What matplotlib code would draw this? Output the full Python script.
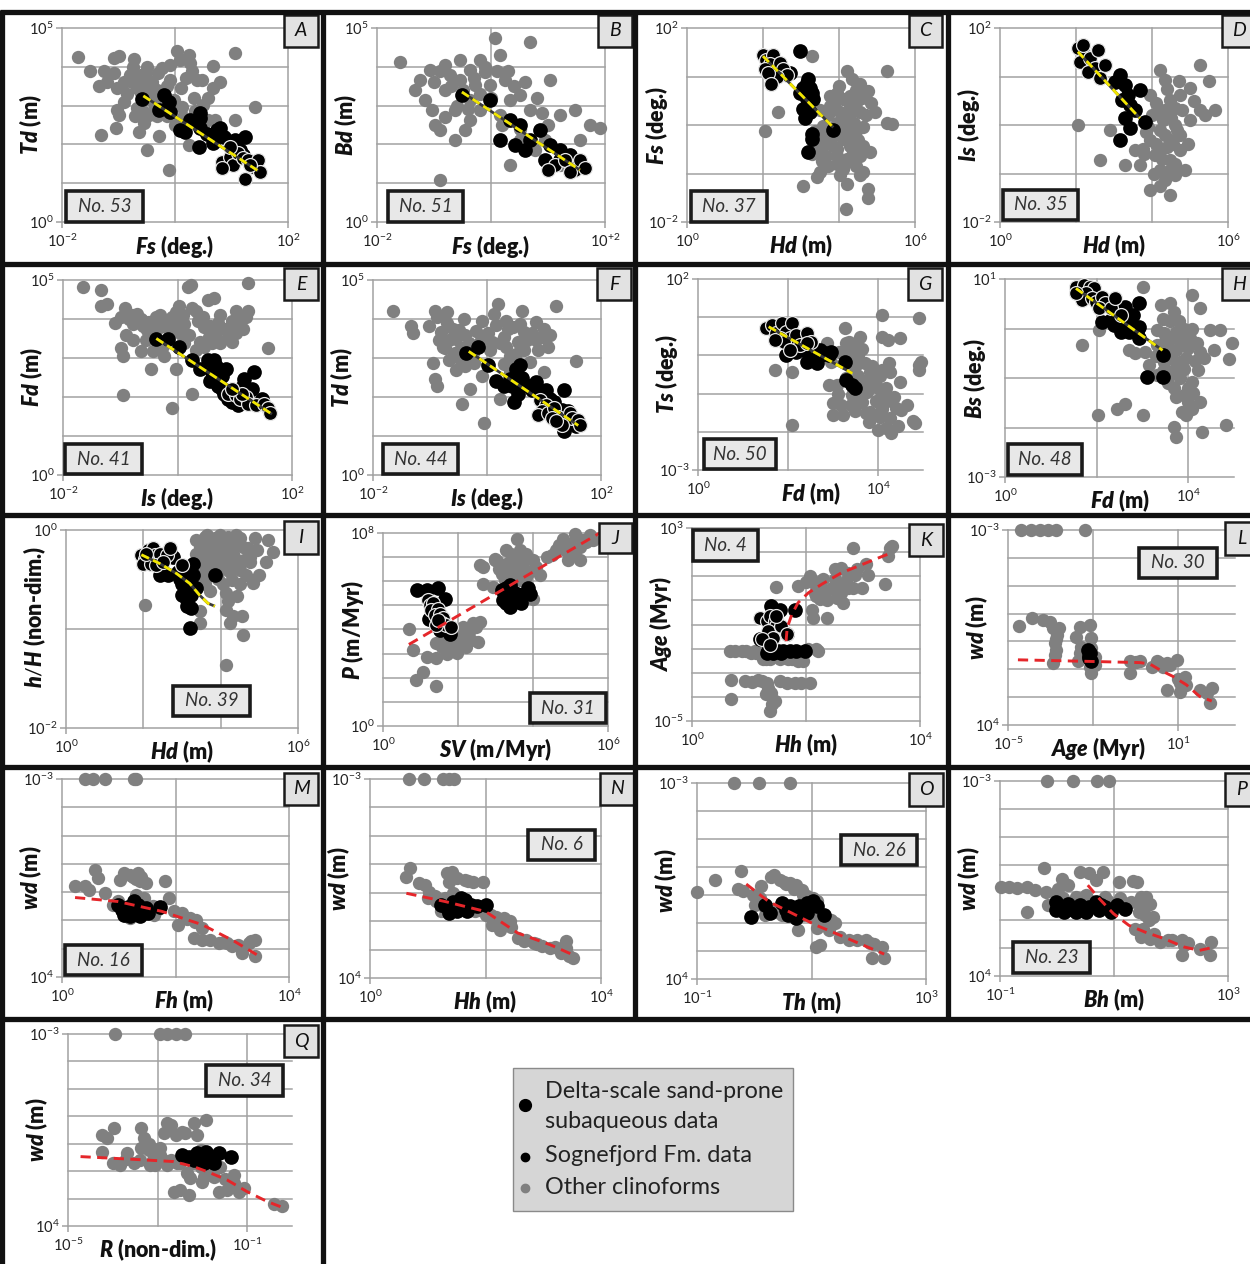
import numpy as np
import matplotlib
matplotlib.use("Agg")
import matplotlib.pyplot as plt
from matplotlib.lines import Line2D
from matplotlib.patches import Rectangle
from matplotlib.ticker import NullLocator

plt.rcParams["font.family"] = ["Lato", "DejaVu Sans"]
plt.rcParams["mathtext.fontset"] = "custom"
plt.rcParams["mathtext.rm"] = "Lato"
plt.rcParams["mathtext.it"] = "Lato:italic:heavy"
plt.rcParams["mathtext.bf"] = "Lato:heavy"

# ---------------------------------------------------------------------------
# Data: (log10 x, log10 y) pairs for every panel.
# "other" = other clinoforms, "delta" = delta-scale sand-prone subaqueous data,
# "sogn" = Sognefjord Fm. data, "fit" = trend line through the data.
# ---------------------------------------------------------------------------
A_other = [(-1.72,4.25),(-1.50,3.90),(-1.34,3.51),(-1.26,3.90),(-1.08,3.84),(-1.08,4.22),(-0.99,4.28),(-0.73,4.20),
           (-1.31,2.24),(-1.05,2.41),(-1.02,3.45),(-1.03,2.89),(-0.99,2.76),(-0.79,3.79),(-0.70,3.71),(-0.61,3.79),
           (-0.52,3.84),(-0.76,3.62),(-0.67,3.45),(-0.61,3.32),(-0.49,3.66),(-0.46,3.49),(-0.58,3.15),(-0.55,2.84),
           (-0.46,2.76),(-0.67,2.93),(-0.70,2.72),(-0.64,2.33),(-0.49,1.85),(-0.29,2.22),(-0.32,2.72),(-0.26,3.23),
           (-0.14,2.72),(-0.02,3.15),(-0.08,3.66),(-0.23,3.97),(-0.08,4.05),(0.04,4.40),(0.09,4.18),(0.24,4.31),
           (0.27,4.09),(0.39,3.66),(0.48,3.66),(0.68,4.01),(0.80,3.62),(0.68,3.45),(0.59,3.19),(0.33,3.19),
           (0.50,3.02),(0.12,2.97),(-0.11,1.34),(0.24,1.98),(0.53,2.33),(0.59,2.63),(0.71,2.63),(1.06,2.63),
           (1.06,4.35),(1.41,2.96),(-0.32,3.41),(-0.43,3.15),
           (-0.90,3.60),(-0.85,3.30),(-0.60,3.55),(-0.40,3.60),(-0.30,3.85),(-0.50,4.00),(-0.15,3.50),(-0.35,3.00),
           (0.10,3.45),(0.20,3.70),(0.30,3.90),(-0.75,4.00),(-1.20,3.60),(-0.55,2.55),(0.00,2.50),(0.15,2.70),
           (-0.20,2.90),(0.35,2.85),(-0.40,3.30),(-0.90,3.10)]
A_delta = [(-0.58,3.17),(-0.20,3.28),(-0.11,3.10),(-0.08,2.84),(-0.29,2.89),(0.09,2.37),(0.18,2.33),(0.27,2.63),
           (0.45,2.80),(0.45,2.67),(0.42,1.94),(0.45,2.41),(0.56,2.28),(0.68,2.20),(0.74,2.37),(0.80,2.41),
           (0.86,2.20),(1.06,2.11),(1.24,2.20),(0.68,2.03),(1.15,1.85),(1.21,1.72)]
A_sogn = [(0.83,1.55),(0.97,1.68),(1.03,1.47),(1.12,1.77),(1.21,1.64),(1.30,1.59),(1.38,1.42),(1.47,1.59),
          (1.50,1.29),(1.24,1.12),(0.83,1.38),(1.33,1.47),(0.97,1.94)]
A_fit = [(-0.56,3.25),(1.47,1.32)]

B_other = [(-1.60,4.12),(-1.33,3.40),(-1.25,3.66),(-1.16,3.14),(-0.89,2.37),(-1.04,2.89),(-0.81,3.40),(-0.72,3.79),
           (-0.54,3.66),(-0.37,3.92),(-0.19,4.18),(-0.11,3.87),(-0.02,3.53),(0.16,4.30),(0.25,3.66),(0.33,3.14),
           (0.51,3.27),(0.68,2.89),(0.95,2.11),(0.07,4.74),(0.68,4.64),(1.04,3.66),(1.21,2.76),(1.47,2.89),
           (1.74,2.50),(1.56,2.11),(1.91,2.42),(-0.37,2.63),(-0.63,2.11),(-0.89,1.08),(0.33,1.47),(-0.19,2.89),
           (-0.37,3.14),(-0.63,2.89),(0.16,2.76),(0.51,2.11),(0.77,1.86),(1.21,1.47),(-1.07,3.92),(-0.81,4.05),
           (-0.54,4.18),(-0.28,3.53),(-0.98,2.50),(-0.46,2.37),
           (-0.90,3.90),(-0.70,3.50),(-0.50,3.40),(-0.30,3.70),(-0.10,4.00),(0.10,3.90),(0.30,3.90),(-0.20,3.30),
           (0.00,3.20),(-0.60,3.00),(-0.40,2.90),(0.40,3.50),(0.60,3.60),(0.80,3.20),(0.90,2.80),(-1.00,3.60),
           (-0.80,2.70),(0.20,2.50),(0.50,2.40),(1.00,2.50)]
B_delta = [(-0.51,3.27),(-0.02,3.14),(0.33,2.63),(0.51,2.50),(0.16,2.11),(0.42,1.98),(0.68,2.11),(0.86,2.37),
           (1.04,1.98),(1.21,1.86),(1.39,1.73),(1.47,1.47),(0.95,1.60),(1.21,1.60),(0.60,1.86)]
B_sogn = [(1.12,1.47),(1.30,1.60),(1.47,1.34),(1.56,1.60),(1.39,1.29),(1.00,1.34),(1.65,1.39)]
B_fit = [(-0.51,3.35),(1.56,1.34)]

C_other = [(3.28,1.43),(4.20,1.11),(5.25,1.11),(4.33,0.94),(4.55,0.84),(4.77,0.70),(3.76,0.60),(3.94,0.67),
           (4.11,0.53),(4.29,0.60),(4.46,0.46),(4.55,0.26),(4.95,0.26),(5.25,0.05),(5.39,0.02),(2.40,0.26),
           (2.05,-0.12),(3.59,-0.02),(3.94,0.05),(4.20,-0.02),(4.46,-0.12),(4.64,-0.05),(3.41,-0.29),(3.76,-0.36),
           (4.11,-0.29),(4.29,-0.43),(4.64,-0.43),(4.82,-0.56),(3.67,-0.63),(3.94,-0.63),(4.20,-0.70),(4.46,-0.84),
           (4.64,-0.97),(4.11,-0.91),(3.50,-0.97),(3.06,-1.25),(3.41,-1.08),(4.20,-1.21),(4.55,-1.04),(4.77,-1.32),
           (4.77,-1.51),(4.18,-1.73),(3.50,-0.53),(3.94,-0.50),(3.76,0.39),(4.02,0.26),(3.37,-0.12),(3.41,-0.43),
           (3.85,0.53),(4.29,0.39),(4.46,0.73),(3.67,-0.15),(4.02,-0.15),(3.85,-0.43),(4.37,-0.56),(4.55,-0.63),
           (4.02,-1.04),
           (3.70,0.20),(3.90,0.35),(4.05,0.10),(4.25,0.20),(4.40,0.05),(4.70,0.20),(3.80,-0.25),(4.15,-0.10),
           (4.35,-0.25),(3.60,-0.40),(3.95,-0.80),(4.30,-0.75),(3.70,-0.85),(4.50,-0.30),(4.00,0.80),(3.50,0.30),
           (4.60,0.55),(4.85,0.45),(3.30,-0.60),(3.55,-0.75)]
C_delta = [(2.97,1.52),(2.71,1.08),(3.19,0.94),(3.06,0.77),(2.97,0.67),(3.23,0.77),(3.28,0.67),(3.15,0.53),
           (3.06,0.32),(3.19,0.46),(3.10,0.15),(3.32,0.53),(3.28,-0.19),(3.28,-0.29),(3.19,-0.56),(3.85,-0.10),
           (3.15,0.36),(3.23,0.26),(3.15,0.87)]
C_sogn = [(2.00,1.45),(2.09,1.35),(2.27,1.45),(2.18,1.25),(2.05,1.15),(2.36,1.11),(2.27,0.94),(2.44,1.28),
          (2.53,1.15),(2.62,1.04),(2.36,0.99),(2.14,1.08),(2.22,0.84)]
C_fit = [(2.00,1.42),(3.85,-0.05)]

D_other = [(2.05,0.00),(2.89,-0.10),(3.55,-0.52),(3.95,0.62),(4.21,1.13),(4.34,0.93),(4.47,0.52),(4.21,0.31),
           (4.74,0.62),(5.00,0.76),(5.26,1.24),(4.21,-0.10),(4.47,-0.31),(3.95,-0.31),(4.21,-0.52),(4.47,-0.72),
           (4.74,-0.52),(4.61,0.00),(5.00,0.10),(5.26,0.31),(5.39,0.21),(5.66,0.31),(3.68,-0.82),(4.21,-0.93),
           (2.63,-0.72),(3.29,-0.82),(4.34,-1.13),(4.47,-1.44),(3.95,-1.34),(4.87,-0.93),(4.61,-1.03),(4.08,-0.62),
           (4.74,-0.21),(4.00,0.20),(4.30,0.10),(4.60,0.35),(3.90,-0.05),(4.40,-0.45),(3.80,-0.60),
           (4.10,0.45),(4.35,0.30),(4.50,0.15),(4.65,-0.10),(4.35,-0.20),(4.10,-0.40),(4.55,-0.40),(3.85,-0.15),
           (4.25,-0.70),(4.60,-0.80),(4.95,-0.40),(5.10,0.50),(4.80,0.30),(4.05,-1.00),(3.75,-0.50),(4.40,0.75),
           (4.70,0.90),(5.50,0.90),(4.20,-1.25),(4.45,-0.95)]
D_delta = [(3.16,1.03),(3.29,0.82),(3.37,0.62),(3.21,0.52),(3.42,0.41),(3.29,0.14),(3.42,-0.06),(3.55,0.31),
           (3.16,-0.31),(3.82,0.06),(3.68,0.72),(3.03,0.89)]
D_sogn = [(2.05,1.59),(2.24,1.44),(2.11,1.30),(2.37,1.38),(2.50,1.18),(2.32,1.09),(2.63,0.97),(2.18,1.65),
          (2.76,1.24),(2.58,1.55)]
D_fit = [(2.05,1.51),(3.68,0.14)]

E_other = [(-1.65,4.83),(-1.34,4.75),(-1.34,4.33),(-1.23,4.38),(-0.92,4.29),(-0.99,4.04),(-0.85,4.00),(-0.71,4.13),
           (-0.64,4.00),(-0.78,3.88),(-0.61,3.83),(-0.50,3.92),(-0.40,3.96),(-0.37,4.04),(-0.30,3.79),(-0.23,3.92),
           (-0.09,4.04),(-0.02,4.17),(0.02,4.33),(0.12,3.88),(0.19,4.83),(0.23,4.88),(0.26,4.29),(0.33,4.21),
           (0.54,4.50),(0.64,4.54),(0.47,3.79),(0.57,3.83),(0.68,3.63),(0.61,3.38),(0.47,3.29),(0.89,3.54),
           (0.96,3.79),(1.03,3.63),(1.03,4.21),(1.10,3.96),(1.23,4.21),(1.20,4.04),(0.96,3.42),(0.75,3.38),
           (0.40,3.42),(0.33,3.21),(-0.99,3.25),(-0.96,3.04),(-0.47,2.71),(-0.43,3.17),(-0.64,3.17),(-0.23,3.04),
           (-0.02,2.71),(-0.09,1.71),(0.26,2.08),(-0.96,2.04),(1.23,4.92),(1.58,3.25),(-0.16,3.46),(0.12,3.38),
           (-0.54,3.71),(-0.78,3.46),(0.05,3.63),
           (-0.80,4.10),(-0.60,3.95),(-0.45,3.70),(-0.30,4.10),(-0.15,3.75),(-0.05,3.90),(0.10,4.10),(0.35,3.95),
           (0.45,4.05),(0.70,3.90),(0.85,3.75),(0.75,4.10),(-0.55,3.45),(-0.25,3.30),(0.20,3.60),(0.55,3.55),
           (-1.10,3.90),(-0.90,3.60),(0.95,3.95),(1.15,3.75)]
E_delta = [(-0.37,3.48),(-0.16,3.50),(0.02,3.29),(0.26,2.96),(0.40,2.71),(0.54,2.96),(0.64,2.96),(0.61,2.63),
           (0.57,2.42),(0.68,2.79),(0.78,2.54),(0.85,2.71),(0.71,2.29),(0.78,2.21),(0.82,2.08),(0.89,1.96),
           (0.96,1.88),(1.17,2.46),(1.13,2.25),(1.30,2.21),(1.48,1.96),(1.34,2.63),(1.06,1.79),(1.03,2.13)]
E_sogn = [(0.89,2.08),(1.03,2.04),(1.10,1.96),(1.20,2.00),(1.23,1.83),(1.37,1.79),(1.51,1.83),(1.58,1.71),
          (1.62,1.58),(1.13,2.08),(0.96,2.21)]
E_fit = [(-0.37,3.50),(1.65,1.56)]

F_other = [(-1.65,4.21),(-1.34,3.83),(-1.30,3.63),(-1.02,3.83),(-0.92,4.21),(-0.88,4.04),(-0.71,4.17),(-0.81,3.67),
           (-0.67,3.46),(-0.78,3.29),(-0.60,3.75),(-0.50,3.71),(-0.39,3.58),(-0.32,3.38),(-0.46,3.25),(-0.57,3.13),
           (-0.67,2.96),(-0.46,2.92),(-0.39,2.79),(-0.22,2.88),(-0.08,2.54),(-0.95,2.88),(-0.92,2.46),(-0.88,2.29),
           (-0.29,2.21),(-0.43,1.83),(-0.05,1.33),(0.20,4.38),(0.13,4.13),(0.34,3.96),(0.37,3.75),(0.58,3.88),
           (0.62,4.21),(0.86,3.92),(0.65,3.67),(0.79,3.63),(0.34,3.29),(0.55,3.42),(0.65,3.21),(0.41,3.04),
           (0.51,2.88),(0.23,3.38),(0.09,3.42),(0.02,3.63),(-0.08,3.96),(0.23,1.96),(0.86,3.46),(0.97,3.54),
           (1.11,3.58),(1.07,3.29),(1.21,4.33),(1.56,2.92),(1.00,2.63),(0.41,2.63),(-0.25,3.13),(-0.74,3.25),
           (-0.70,3.90),(-0.55,3.50),(-0.40,4.00),(-0.20,3.70),(-0.10,3.45),(0.05,3.20),(0.30,3.55),(0.45,3.80),
           (0.70,3.45),(0.50,3.10),(-0.30,3.00),(-0.55,2.70),(0.90,3.20),(1.00,3.75),(0.15,3.85),(-0.85,3.45),
           (0.30,2.85),(0.75,2.90)]
F_delta = [(-0.36,3.13),(-0.15,3.29),(0.02,2.83),(0.16,2.42),(0.30,2.29),(0.41,2.46),(0.51,2.71),(0.58,2.83),
           (0.62,2.50),(0.65,2.33),(0.55,2.08),(0.48,1.88),(0.72,2.29),(0.86,2.38),(0.97,2.04),(1.04,2.17),
           (1.11,1.96),(1.18,1.88),(1.32,1.67),(1.35,1.13),(1.42,1.63),(1.56,1.25),(0.44,2.29),(0.79,2.17),
           (1.35,2.17)]
F_sogn = [(0.93,1.92),(1.04,1.79),(0.97,1.63),(0.90,1.54),(1.07,1.58),(1.18,1.71),(1.25,1.50),(1.14,1.46),
          (1.46,1.58),(1.49,1.46),(1.60,1.42),(1.63,1.29),(1.32,1.29),(1.21,1.38)]
F_fit = [(-0.32,3.17),(1.60,1.27)]

G_other = [(1.70,-0.38),(2.09,-0.43),(2.87,0.32),(3.30,0.32),(3.35,0.36),(3.48,0.27),(3.61,0.49),(3.65,0.18),
           (3.26,0.71),(3.13,0.10),(2.96,-0.16),(3.35,-0.08),(3.83,-0.43),(3.87,-0.29),(4.09,-0.38),(4.26,-0.43),
           (2.91,-0.77),(3.09,-0.77),(3.30,-0.60),(3.74,-0.69),(3.91,-0.77),(4.17,-0.86),(4.00,-0.86),(3.00,-1.25),
           (3.17,-1.30),(3.22,-1.56),(3.00,-1.56),(3.65,-1.21),(3.83,-1.47),(3.91,-1.56),(3.74,-1.52),(4.04,-1.60),
           (4.39,-1.39),(4.52,-1.43),(4.26,-1.65),(4.17,-1.91),(4.00,-1.95),(4.30,-2.04),(4.78,-1.73),(4.83,-1.78),
           (4.91,-0.25),(4.91,-0.38),(4.96,-0.16),(4.91,0.97),(4.09,1.06),(4.09,0.49),(4.22,0.40),(4.48,0.45),
           (2.09,-1.82),(3.57,-0.86),(3.61,-1.04),(3.43,-1.04),(4.09,-1.04),
           (3.50,-0.30),(3.70,-0.20),(3.90,-0.60),(4.05,-0.55),(3.55,-0.55),(3.75,-0.95),(3.95,-1.20),(4.20,-1.20),
           (3.40,-1.30),(3.50,-1.45),(4.35,-1.10),(4.10,-1.40),(3.80,-1.75),(3.35,0.05),(3.55,0.00),(4.25,-0.20),
           (4.50,-0.70),(3.10,-1.00),(4.65,-1.30),(4.45,-1.85)]
G_delta = [(1.96,0.01),(2.17,0.10),(2.35,0.14),(2.43,-0.16),(2.61,-0.08),(2.70,0.14),(2.74,0.01),(2.83,0.05),
           (2.91,0.01),(2.96,0.10),(3.26,-0.16),(3.30,-0.64),(3.43,-0.77),(3.48,-0.86),(2.65,-0.21)]
G_sogn = [(1.52,0.71),(1.65,0.80),(1.74,0.58),(1.87,0.84),(1.96,0.62),(2.09,0.84),(2.04,0.45),(1.83,0.45),
          (1.91,0.36),(2.17,0.53),(2.43,0.58),(2.52,0.36),(2.26,0.27),(2.04,0.14),(1.70,0.40),(2.43,0.32)]
G_fit = [(1.57,0.75),(3.43,-0.47)]

H_other = [(1.68,-0.34),(2.06,-0.03),(3.01,0.84),(4.09,0.68),(3.40,0.47),(3.61,0.51),(3.70,0.34),(3.44,0.20),
           (3.31,-0.03),(3.48,-0.10),(3.74,-0.07),(3.91,0.00),(4.09,0.00),(4.26,0.41),(4.47,-0.03),(4.69,-0.03),
           (4.95,-0.30),(4.90,-0.61),(4.56,-0.44),(4.26,-0.47),(4.00,-0.40),(3.74,-0.44),(3.57,-0.40),(3.31,-0.34),
           (3.05,-0.47),(2.84,-0.50),(2.71,-0.44),(3.14,-0.74),(3.31,-0.94),(3.57,-0.94),(3.83,-1.01),(4.09,-1.08),
           (3.91,-0.81),(4.22,-0.84),(3.70,-1.21),(3.74,-1.38),(4.00,-1.48),(4.09,-1.62),(4.26,-1.48),(3.87,-1.68),
           (3.96,-1.75),(3.70,-1.99),(3.74,-2.19),(4.30,-2.09),(4.82,-1.95),(2.62,-1.52),(3.01,-1.75),(2.02,-1.75),
           (2.45,-1.62),(3.83,-0.67),(3.48,-0.67),
           (3.50,-0.25),(3.65,-0.20),(3.85,-0.25),(4.05,-0.20),(4.20,-0.30),(3.60,-0.60),(3.75,-0.70),(3.95,-0.60),
           (4.15,-0.65),(3.45,-0.85),(3.65,-0.85),(3.85,-0.85),(4.00,-1.20),(3.90,-1.35),(4.10,-1.30),(3.55,-1.10),
           (4.35,-0.60),(3.30,-0.55),(3.60,0.15),(3.80,0.15)]
H_delta = [(2.11,0.14),(2.32,0.17),(2.45,0.27),(2.54,0.34),(2.62,0.44),(2.67,0.17),(2.58,0.04),(2.54,-0.07),
           (2.71,-0.07),(2.92,0.04),(2.92,-0.20),(2.92,0.51),(3.44,-0.54),(3.10,-0.98),(3.44,-0.98),(2.37,0.07),
           (2.80,0.27),(2.75,0.07),(2.88,-0.07)]
H_sogn = [(1.55,0.84),(1.72,0.88),(1.85,0.84),(1.94,0.81),(1.76,0.71),(1.68,0.58),(1.89,0.61),(1.98,0.54),
          (2.11,0.64),(2.19,0.51),(2.06,0.41),(2.32,0.41),(2.41,0.61),(2.54,0.27),(1.55,0.71)]
H_fit = [(1.55,0.81),(3.44,-0.44)]

I_other = [(2.04,-0.76),(3.37,-0.10),(3.59,-0.07),(3.72,-0.13),(3.85,-0.08),(3.98,-0.05),(4.19,-0.07),(4.32,-0.13),
           (4.49,-0.08),(4.88,-0.08),(5.22,-0.10),(5.35,-0.22),(5.18,-0.32),(4.75,-0.32),(4.58,-0.17),(4.32,-0.24),
           (4.15,-0.27),(3.98,-0.20),(3.76,-0.25),(3.55,-0.20),(3.46,-0.30),(3.63,-0.37),(3.80,-0.35),(3.98,-0.40),
           (4.23,-0.37),(4.49,-0.40),(4.66,-0.45),(4.84,-0.54),(3.59,-0.55),(3.72,-0.62),(3.93,-0.49),(4.15,-0.64),
           (4.41,-0.67),(4.19,-0.72),(4.15,-0.81),(4.32,-0.87),(4.23,-0.94),(4.54,-0.87),(3.46,-0.82),(3.46,-0.94),
           (4.58,-1.06),(4.15,-1.36),(3.89,-0.30),(4.41,-0.30),(4.75,-0.27),(3.80,-0.15),(3.46,-0.17),(3.37,-0.24),
           (3.60,-0.15),(3.70,-0.28),(3.85,-0.22),(4.00,-0.12),(4.10,-0.35),(4.25,-0.18),(4.40,-0.15),(4.60,-0.30),
           (4.70,-0.18),(4.05,-0.55),(4.30,-0.50),(3.75,-0.45),(4.50,-0.55),(4.95,-0.20),(3.50,-0.45),(4.00,-0.28),
           (4.25,-0.42),(3.65,-0.05),(4.40,-0.05),(5.00,-0.45)]
I_delta = [(2.43,-0.45),(2.64,-0.45),(2.77,-0.27),(2.94,-0.49),(3.07,-0.39),(3.20,-0.42),(3.29,-0.34),(3.29,-0.45),
           (2.99,-0.55),(3.12,-0.61),(3.24,-0.54),(3.37,-0.59),(2.99,-0.66),(3.12,-0.71),(3.24,-0.66),(3.12,-0.77),
           (3.24,-0.79),(3.20,-0.99),(3.85,-0.45),(2.90,-0.42),(3.07,-0.50)]
I_sogn = [(1.95,-0.25),(2.04,-0.29),(2.13,-0.20),(2.25,-0.18),(2.30,-0.25),(2.43,-0.24),(2.60,-0.25),(2.69,-0.18),
          (2.00,-0.34),(2.21,-0.34),(2.34,-0.35),(2.51,-0.32),(2.99,-0.35),(2.08,-0.24)]
I_fit = [(1.95,-0.25),(2.43,-0.34),(2.86,-0.44),(3.20,-0.54),(3.46,-0.66),(3.67,-0.74),(3.85,-0.77)]

J_other = [(0.69,4.04),(0.80,3.14),(0.89,1.90),(1.07,2.25),(1.16,2.87),(1.42,2.80),(1.40,1.66),(1.42,3.42),
           (1.56,3.28),(1.73,3.70),(1.87,3.42),(1.96,3.01),(2.04,3.42),(2.22,3.28),(2.22,3.70),(2.31,3.97),
           (2.49,4.11),(2.58,4.32),(2.40,4.25),(2.13,4.11),(1.96,3.97),(2.53,3.49),(2.67,6.59),(2.58,6.66),
           (2.98,6.94),(3.29,7.28),(3.42,7.14),(3.56,7.77),(3.47,6.73),(3.29,6.73),(3.16,6.32),(2.93,5.77),
           (2.67,5.90),(3.64,7.01),(3.82,7.14),(4.00,6.87),(4.09,6.59),(4.18,6.25),(3.82,6.18),(3.64,6.04),
           (4.00,5.28),(4.36,7.01),(4.62,7.28),(4.80,7.77),(4.98,7.56),(5.11,7.97),(5.24,7.42),(5.07,7.21),
           (4.93,6.87),(5.24,6.87),(5.42,7.63),(5.51,7.90),(5.60,7.70),(2.98,6.87),(3.64,7.28),
           (3.10,6.50),(3.35,6.50),(3.50,6.90),(3.70,6.60),(3.90,6.40),(3.45,7.00),(3.55,6.25),(3.25,6.05),
           (3.75,6.85),(3.05,6.85),(4.50,7.10),(4.70,7.50),(4.85,7.30),(5.30,7.70),(1.70,3.00),(1.85,3.20),
           (2.10,3.60),(2.35,3.55),(1.60,3.55),(2.00,3.80)]
J_delta = [(0.91,5.63),(1.17,5.63),(1.47,5.74),(1.64,5.28),(1.23,4.43),(1.78,3.81),(1.67,4.04),(1.51,3.97),
           (3.16,5.63),(3.29,5.70),(3.38,5.83),(3.47,5.56),(3.24,5.35),(3.29,5.08),(3.38,4.94),(3.42,5.21),
           (3.56,5.49),(3.69,5.42),(3.87,5.70),(3.91,5.49),(3.69,5.08),(3.20,5.21),(3.33,5.49)]
J_sogn = [(1.20,5.21),(1.24,5.01),(1.33,5.08),(1.29,4.80),(1.47,4.87),(1.38,4.59),(1.51,4.66),(1.60,4.46),
          (1.56,4.25),(1.69,4.18),(1.82,4.11),(1.42,4.18),(1.47,4.39)]
J_fit = [(0.69,3.38),(6.00,8.20)]

K_other = [(0.66,-2.10),(0.75,-2.10),(0.87,-2.10),(0.95,-2.10),(1.04,-2.17),(1.13,-2.17),(1.22,-2.10),(1.36,-2.45),
           (1.69,-2.45),(1.86,-2.52),(2.04,-2.03),(2.21,-2.10),(2.18,-2.03),(0.69,-3.28),(0.93,-3.34),(1.22,-3.34),
           (1.31,-3.41),(1.34,-3.62),(1.39,-3.83),(1.45,-4.17),(1.36,-4.59),(0.69,-4.10),(1.66,-3.41),(1.80,-3.41),
           (1.92,-3.41),(2.07,-3.41),(1.48,0.56),(1.86,0.59),(2.07,1.00),(2.13,0.79),(2.18,0.59),(2.27,0.52),
           (2.18,0.17),(2.36,0.03),(2.33,0.31),(2.16,0.31),(2.51,1.28),(2.62,1.34),(2.74,1.14),(2.86,1.07),
           (3.09,1.07),(2.62,0.59),(2.74,0.52),(2.83,0.52),(2.98,0.52),(2.62,0.31),(2.65,-0.10),(2.83,2.17),
           (3.39,0.66),(3.44,1.83),(3.47,2.17),(3.50,2.24),(2.13,-0.72),(2.36,-0.72),(2.10,-0.38),
           (1.10,-2.10),(1.30,-2.45),(1.55,-2.45),(1.75,-2.45),(1.95,-2.52),(1.05,-3.40),(1.15,-3.30),(1.30,-3.90),
           (1.40,-4.30),(2.30,0.90),(2.50,0.90),(2.45,0.50),(2.90,1.30),(2.70,0.80),(3.05,1.50),(2.55,0.10),
           (2.00,0.75),(2.25,0.05),(1.55,-3.35),(1.25,-2.45)]
K_delta = [(1.38,-0.24),(1.54,-0.38),(1.80,-0.38),(1.66,-1.41),(1.19,-1.62),(1.34,-2.10),(1.42,-2.17),(1.51,-2.10),
           (1.60,-2.10),(1.72,-2.10),(1.83,-2.10),(1.98,-2.10),(1.31,-2.17),(1.57,-2.17)]
K_sogn = [(1.19,-0.72),(1.31,-0.86),(1.36,-0.66),(1.45,-0.86),(1.48,-1.07),(1.34,-1.28),(1.42,-1.55),(1.22,-1.62),
          (1.36,-1.83),(1.57,-1.07),(1.66,-1.41),(1.48,-0.66)]
K_fit = [(1.65,-1.69),(1.67,-1.14),(1.75,-0.59),(1.86,-0.10),(2.04,0.31),(2.27,0.66),(2.62,1.14),(2.98,1.48),
         (3.27,1.76),(3.50,1.97)]

L_other = [(-4.53,-3),(-4.18,-3),(-3.88,-3),(-3.59,-3),(-3.32,-3),(-2.29,-3),
           (-4.62,0.44),(-4.14,0.17),(-3.76,0.23),(-3.53,0.29),(-3.41,0.53),(-3.27,0.77),(-3.35,1.07),(-3.32,1.31),
           (-3.35,1.49),(-3.41,1.78),(-2.59,0.83),(-2.47,0.47),(-2.12,0.41),(-2.41,1.19),(-2.47,1.43),(-2.24,1.31),
           (-2.06,1.25),(-2.12,1.90),(-2.06,2.12),(-1.94,1.55),(-2.53,1.72),(-2.06,0.89),(-0.71,1.72),(-0.71,2.14),
           (-0.35,1.72),(0.06,1.90),(0.24,1.72),(0.35,1.78),(0.59,1.78),(0.94,1.67),(1.24,2.26),(1.06,2.50),
           (0.59,2.74),(1.06,2.80),(1.76,2.74),(2.18,2.68),(2.12,3.22),(1.29,2.56),
           (-3.20,0.50),(-3.30,0.90),(-2.30,1.50),(-2.00,1.60),(-1.95,1.85),(-0.50,1.75),(0.45,1.90),(0.70,1.85),
           (1.15,2.60),(1.00,2.35),(2.00,2.85)]
L_delta = [(-2.18,1.31),(-2.12,1.43),(-2.14,1.61),(-2.09,1.72),(-2.16,1.52)]
L_sogn = []
L_fit = [(-4.65,1.66),(-2.00,1.72),(-0.35,1.76),(0.00,1.81),(0.35,2.02),(0.82,2.26),(1.29,2.56),(1.76,2.98),
         (2.18,3.14)]

M_other = [(0.41,-3),(0.55,-3),(0.75,-3),(1.26,-3),(1.31,-3),
           (0.23,0.80),(0.41,0.80),(0.48,0.92),(0.59,0.21),(0.63,0.51),(0.75,1.04),(1.02,0.56),(1.09,0.33),
           (1.19,0.39),(1.34,0.33),(1.37,0.62),(1.48,0.68),(1.82,0.62),(1.89,1.21),(0.98,1.33),(1.55,1.56),
           (1.98,1.68),(2.12,1.74),(2.05,2.15),(2.26,1.92),(2.37,1.98),(2.47,2.27),(2.33,2.62),(2.47,2.68),
           (2.76,2.80),(2.90,2.80),(3.11,2.86),(3.18,3.15),(3.33,2.74),(3.40,2.68),(3.40,3.27),(1.62,1.80),
           (1.12,1.86),
           (1.30,0.55),(1.40,0.45),(1.25,0.45),(1.45,1.20),(1.30,1.10),(1.60,1.50),(1.70,1.60),(2.20,1.95),
           (2.35,2.05),(2.60,2.70),(2.85,2.75),(3.00,2.90),(3.30,2.80),(0.90,1.45),(1.20,1.90)]
M_delta = [(0.98,1.45),(1.05,1.62),(1.16,1.51),(1.09,1.80),(1.19,1.86),(1.26,1.33),(1.34,1.45),(1.41,1.68),
           (1.37,1.86),(1.48,1.56),(1.51,1.74),(1.73,1.51),(1.26,1.62)]
M_sogn = []
M_fit = [(0.23,1.19),(0.98,1.33),(1.76,1.68),(2.47,2.15),(3.04,2.74),(3.43,3.21)]

N_other = [(0.68,-3),(0.93,-3),(1.26,-3),(1.37,-3),(1.45,-3),
           (0.70,0.14),(0.63,0.43),(0.84,0.67),(0.95,0.72),(1.02,0.96),(1.12,1.13),(1.26,1.25),(1.33,0.31),
           (1.42,0.26),(1.37,0.61),(1.64,0.55),(1.79,0.61),(1.96,0.61),(1.44,1.02),(1.82,1.66),(2.00,1.78),
           (2.18,1.84),(2.32,1.89),(2.42,2.01),(2.11,2.13),(2.25,2.30),(2.56,2.60),(2.67,2.71),(2.84,2.77),
           (2.98,2.89),(3.12,2.95),(3.33,2.95),(3.40,2.71),(3.44,3.24),(3.30,3.12),(3.51,3.30),(2.42,2.13),
           (1.23,1.66),(1.30,1.48),
           (1.15,1.30),(1.30,1.20),(1.50,0.50),(1.70,0.60),(1.50,1.50),(1.70,1.50),(2.10,1.80),(2.25,1.95),
           (2.45,2.20),(2.70,2.65),(2.90,2.80),(3.20,2.90),(3.40,2.95),(1.00,1.20),(1.90,1.60)]
N_delta = [(1.23,1.43),(1.33,1.54),(1.44,1.31),(1.54,1.37),(1.65,1.25),(1.75,1.43),(1.86,1.48),(2.00,1.43),
           (1.51,1.66),(1.68,1.66),(1.37,1.72),(1.58,1.19)]
N_sogn = []
N_fit = [(0.63,1.02),(1.30,1.31),(2.00,1.66),(2.56,2.42),(3.12,2.83),(3.51,3.18)]

O_other = [(-0.35,-3),(0.08,-3),(0.62,-3),
           (-1.00,0.91),(-0.68,0.46),(-0.23,0.16),(-0.29,0.78),(-0.20,0.85),(-0.03,0.99),(0.11,0.69),(0.35,0.28),
           (0.45,0.46),(0.52,0.52),(0.62,0.58),(0.73,0.64),(0.83,0.81),(0.93,1.05),(1.03,1.11),(1.10,1.23),
           (0.01,1.35),(0.18,1.47),(0.38,1.59),(0.49,1.71),(0.76,2.24),(0.93,1.59),(1.03,1.77),(1.14,1.83),
           (1.21,1.95),(1.34,1.89),(1.41,2.01),(1.10,2.18),(1.31,2.24),(1.07,2.84),(1.14,2.78),(1.65,2.60),
           (1.96,2.60),(2.03,2.72),(2.06,3.26),(2.23,2.84),(2.27,3.26),(0.18,1.71),
           (0.30,0.35),(0.55,0.60),(0.70,0.80),(0.85,1.00),(0.10,1.10),(0.30,1.50),(0.45,1.55),(0.65,1.50),
           (0.85,1.70),(1.00,1.45),(1.20,1.80),(1.35,2.00),(1.50,2.50),(1.80,2.60),(2.10,2.75)]
O_delta = [(-0.06,1.77),(0.18,1.35),(0.28,1.65),(0.49,1.29),(0.55,1.53),(0.62,1.41),(0.69,1.59),(0.73,1.83),
           (0.79,1.41),(0.93,1.29),(1.03,1.23),(1.10,1.41),(1.21,1.71),(0.93,1.65),(0.59,1.71)]
O_sogn = []
O_fit = [(-0.14,0.61),(0.25,1.23),(0.66,1.65),(1.07,2.07),(1.48,2.42),(1.89,2.78),(2.27,3.11)]

P_other = [(-0.17,-3),(0.28,-3),(0.71,-3),(0.92,-3),
           (-0.98,0.80),(-0.84,0.80),(-0.53,0.80),(-0.39,0.92),(-0.53,1.70),(-0.19,0.98),(-0.22,0.14),(0.02,0.86),
           (0.09,0.50),(0.19,0.74),(0.40,0.26),(0.57,0.32),(0.68,0.56),(0.81,0.26),(1.09,0.62),(1.33,0.60),
           (1.40,0.62),(1.47,1.16),(1.57,1.16),(1.64,1.40),(1.68,1.88),(1.61,2.00),(1.37,2.30),(1.47,2.60),
           (1.64,2.66),(1.81,2.78),(2.02,2.72),(2.19,2.72),(2.23,2.90),(2.50,3.02),(2.71,2.78),(2.68,3.26),
           (2.19,3.26),(-0.15,1.46),(0.33,1.16),(0.85,1.16),(1.30,1.34),(1.43,1.70),
           (0.10,1.20),(0.30,1.30),(0.50,1.10),(0.60,1.30),(0.90,1.30),(1.10,1.20),(1.20,1.40),(1.45,1.45),
           (1.55,1.80),(1.50,2.30),(1.70,2.50),(1.95,2.70),(2.30,2.80),(-0.70,0.85),(0.00,1.10)]
P_delta = [(-0.01,1.34),(-0.01,1.64),(0.12,1.70),(0.23,1.58),(0.33,1.70),(0.43,1.58),(0.57,1.52),(0.68,1.34),
           (0.74,1.64),(0.85,1.52),(0.95,1.70),(1.06,1.46),(1.19,1.58),(0.19,1.40),(0.50,1.70),(0.78,1.46),
           (0.40,1.46)]
P_sogn = []
P_fit = [(0.54,0.74),(0.74,1.22),(0.99,1.76),(1.26,2.18),(1.54,2.42),(1.88,2.66),(2.23,2.96),(2.50,3.08),
         (2.68,3.00),(2.71,2.90)]

Q_other = [(-3.96,-3),(-2.95,-3),(-2.79,-3),(-2.60,-3),(-2.38,-3),
           (-4.24,0.68),(-4.13,0.80),(-3.98,0.44),(-4.24,1.29),(-3.83,1.78),(-3.68,1.35),(-3.38,0.44),(-3.31,0.80),
           (-3.38,1.17),(-3.20,1.23),(-3.05,1.78),(-2.94,1.17),(-2.86,0.62),(-2.79,0.26),(-2.71,0.32),(-2.45,0.56),
           (-2.38,0.62),(-2.19,0.26),(-2.12,0.68),(-1.93,0.13),(-2.04,1.23),(-2.79,1.78),(-2.56,1.71),(-2.34,2.08),
           (-2.27,2.26),(-1.97,2.20),(-1.74,2.20),(-2.64,2.75),(-2.49,2.69),(-2.30,2.87),(-1.63,2.75),(-1.45,2.69),
           (-1.30,2.14),(-1.19,2.75),(-1.07,2.63),(-2.04,1.84),(-1.60,1.84),(-0.40,3.20),(-0.22,3.27),(-1.74,1.65),
           (-3.53,1.71),(-3.16,1.78),
           (-3.10,1.60),(-2.90,1.55),(-2.70,1.60),(-2.50,1.70),(-3.40,1.60),(-3.70,1.55),(-4.00,1.70),(-2.60,0.70),
           (-2.20,1.70),(-1.80,1.90),(-1.50,2.30),(-1.30,2.45),(-2.00,2.40),(-3.20,1.00),(-2.95,1.40)]
Q_delta = [(-2.45,1.41),(-2.30,1.47),(-2.12,1.35),(-2.04,1.53),(-1.93,1.29),(-1.82,1.59),(-1.74,1.71),(-1.63,1.35),
           (-1.37,1.47),(-1.97,1.71),(-2.19,1.59)]
Q_sogn = []
Q_fit = [(-4.72,1.47),(-3.53,1.57),(-2.64,1.65),(-2.19,1.84),(-1.89,2.02),(-1.45,2.32),(-1.00,2.75),(-0.55,3.11),
         (-0.22,3.32)]

# ---------------------------------------------------------------------------
# Panel layout (pixel boxes on a 1250 x 1264 canvas) and axis descriptions
# ---------------------------------------------------------------------------
W, H = 1250, 1264
fig = plt.figure(figsize=(W / 100, H / 100), dpi=100)
fig.patch.set_facecolor("white")

GRID = "#a2a2a2"
OTHER = "#808080"
YELLOW = "#f2e600"
RED = "#e5262a"


def p10(e):
    return r"$\mathregular{10^{%s}}$" % e


def fx(px):
    return px / W


def fy(py):
    return 1 - py / H


panels = [
    dict(key="A", box=(62, 288, 28, 222), xl=(-2, 2), yl=(0, 5), xg=[-2, 0, 2], xt=[(-2, "-2"), (2, "2")],
         xlab=r"$\mathit{Fs}$ (deg.)", ylab=r"$\mathit{Td}$ (m)", lbox=(284, 15, 318, 47), nbox=(66, 191, 143, 222),
         no="No. 53", data=(A_other, A_delta, A_sogn, A_fit), fit=YELLOW),
    dict(key="B", box=(377, 605, 28, 222), xl=(-2, 2), yl=(0, 5), xg=[-2, 0, 2], xt=[(-2, "-2"), (2, "+2")],
         xlab=r"$\mathit{Fs}$ (deg.)", ylab=r"$\mathit{Bd}$ (m)", lbox=(598, 15, 632, 47), nbox=(388, 191, 463, 222),
         no="No. 51", data=(B_other, B_delta, B_sogn, B_fit), fit=YELLOW),
    dict(key="C", box=(687, 915, 28, 222), xl=(0, 6), yl=(-2, 2), xg=[0, 2, 4, 6], xt=[(0, "0"), (6, "6")],
         xlab=r"$\mathit{Hd}$ (m)", ylab=r"$\mathit{Fs}$ (deg.)", lbox=(909, 15, 942, 47), nbox=(691, 191, 767, 222),
         no="No. 37", data=(C_other, C_delta, C_sogn, C_fit), fit=YELLOW),
    dict(key="D", box=(1000, 1228, 28, 222), xl=(0, 6), yl=(-2, 2), xg=[0, 2, 4, 6], xt=[(0, "0"), (6, "6")],
         xlab=r"$\mathit{Hd}$ (m)", ylab=r"$\mathit{Is}$ (deg.)", lbox=(1222, 15, 1256, 47), nbox=(1003, 190, 1078, 220),
         no="No. 35", data=(D_other, D_delta, D_sogn, D_fit), fit=YELLOW),
    dict(key="E", box=(63, 292, 280, 475), xl=(-2, 2), yl=(0, 5), xg=[-2, 0, 2], xt=[(-2, "-2"), (2, "2")],
         xlab=r"$\mathit{Is}$ (deg.)", ylab=r"$\mathit{Fd}$ (m)", lbox=(284, 268, 318, 300), nbox=(65, 444, 142, 474),
         no="No. 41", data=(E_other, E_delta, E_sogn, E_fit), fit=YELLOW),
    dict(key="F", box=(373, 601, 280, 475), xl=(-2, 2), yl=(0, 5), xg=[-2, 0, 2], xt=[(-2, "-2"), (2, "2")],
         xlab=r"$\mathit{Is}$ (deg.)", ylab=r"$\mathit{Td}$ (m)", lbox=(597, 268, 631, 300), nbox=(383, 444, 458, 474),
         no="No. 44", data=(F_other, F_delta, F_sogn, F_fit), fit=YELLOW),
    dict(key="G", box=(698, 923, 279, 470), xl=(0, 5), yl=(-3, 2), xg=[0, 2, 4], xt=[(0, "0"), (4, "4")],
         xlab=r"$\mathit{Fd}$ (m)", ylab=r"$\mathit{Ts}$ (deg.)", lbox=(908, 268, 942, 300), nbox=(704, 439, 776, 469),
         no="No. 50", data=(G_other, G_delta, G_sogn, G_fit), fit=YELLOW),
    dict(key="H", box=(1005, 1234, 279, 477), xl=(0, 5), yl=(-3, 1), xg=[0, 2, 4], xt=[(0, "0"), (4, "4")],
         xlab=r"$\mathit{Fd}$ (m)", ylab=r"$\mathit{Bs}$ (deg.)", lbox=(1222, 268, 1256, 300), nbox=(1008, 444, 1082, 475),
         no="No. 48", data=(H_other, H_delta, H_sogn, H_fit), fit=YELLOW),
    dict(key="I", box=(66, 298, 530, 728), xl=(0, 6), yl=(-2, 0), xg=[0, 2, 4, 6], xt=[(0, "0"), (6, "6")],
         xlab=r"$\mathit{Hd}$ (m)", ylab=r"$\mathit{h/H}$ (non-dim.)", lbox=(284, 521, 318, 554), nbox=(173, 686, 250, 716),
         no="No. 39", data=(I_other, I_delta, I_sogn, I_fit), fit=YELLOW, ylab_dy=12),
    dict(key="J", box=(383, 608, 533, 726), xl=(0, 6), yl=(0, 8), xg=[0, 2, 4, 6], xt=[(0, "0"), (6, "6")],
         xlab=r"$\mathit{SV}$ (m/Myr)", ylab=r"$\mathit{P}$ (m/Myr)", lbox=(599, 523, 632, 553), nbox=(530, 693, 606, 723),
         no="No. 31", data=(J_other, J_delta, J_sogn, J_fit), fit=RED),
    dict(key="K", box=(692, 920, 528, 721), xl=(0, 4), yl=(-5, 3), xg=[0, 2, 4], xt=[(0, "0"), (4, "4")],
         xlab=r"$\mathit{Hh}$ (m)", ylab=r"$\mathit{Age}$ (Myr)", lbox=(909, 524, 943, 556), nbox=(693, 530, 758, 561),
         no="No. 4", data=(K_other, K_delta, K_sogn, K_fit), fit=RED),
    dict(key="L", box=(1008, 1235, 530, 725), xl=(-5, 3), yl=(-3, 4), inv=True, xg=[-5, -2, 1], xt=[(-5, "-5"), (1, "1")],
         xlab=r"$\mathit{Age}$ (Myr)", ylab=r"$\mathit{wd}$ (m)", lbox=(1225, 522, 1259, 555), nbox=(1139, 548, 1217, 578),
         no="No. 30", data=(L_other, L_delta, L_sogn, L_fit), fit=RED, xlab_dx=-24),
    dict(key="M", box=(62, 289, 779, 977), xl=(0, 4), yl=(-3, 4), inv=True, xg=[0, 2, 4], xt=[(0, "0"), (4, "4")],
         xlab=r"$\mathit{Fh}$ (m)", ylab=r"$\mathit{wd}$ (m)", lbox=(284, 773, 318, 805), nbox=(65, 945, 142, 975),
         no="No. 16", data=(M_other, M_delta, M_sogn, M_fit), fit=RED, xlab_dx=8),
    dict(key="N", box=(370, 601, 779, 978), xl=(0, 4), yl=(-3, 4), inv=True, xg=[0, 2, 4], xt=[(0, "0"), (4, "4")],
         xlab=r"$\mathit{Hh}$ (m)", ylab=r"$\mathit{wd}$ (m)", lbox=(600, 773, 634, 805), nbox=(528, 830, 595, 860),
         no="No. 6", data=(N_other, N_delta, N_sogn, N_fit), fit=RED),
    dict(key="O", box=(697, 926, 783, 979), xl=(-1, 3), yl=(-3, 4), inv=True, xg=[-1, 1, 3], xt=[(-1, "-1"), (3, "3")],
         xlab=r"$\mathit{Th}$ (m)", ylab=r"$\mathit{wd}$ (m)", lbox=(909, 773, 943, 806), nbox=(841, 835, 917, 865),
         no="No. 26", data=(O_other, O_delta, O_sogn, O_fit), fit=RED),
    dict(key="P", box=(1000, 1228, 781, 976), xl=(-1, 3), yl=(-3, 4), inv=True, xg=[-1, 1, 3], xt=[(-1, "-1"), (3, "3")],
         xlab=r"$\mathit{Bh}$ (m)", ylab=r"$\mathit{wd}$ (m)", lbox=(1225, 773, 1259, 806), nbox=(1013, 942, 1090, 973),
         no="No. 23", data=(P_other, P_delta, P_sogn, P_fit), fit=RED),
    dict(key="Q", box=(68, 292, 1034, 1226), xl=(-5, 0), yl=(-3, 4), inv=True, xg=[-5, -3, -1], xt=[(-5, "-5"), (-1, "-1")],
         xlab=r"$\mathit{R}$ (non-dim.)", ylab=r"$\mathit{wd}$ (m)", lbox=(284, 1025, 318, 1057), nbox=(206, 1065, 283, 1096),
         no="No. 34", data=(Q_other, Q_delta, Q_sogn, Q_fit), fit=RED, xlab_dx=-22),
]


def scatter(ax, pts, **kw):
    if len(pts) == 0:
        return
    a = np.array(pts, dtype=float)
    ax.scatter(10.0 ** a[:, 0], 10.0 ** a[:, 1], clip_on=False, **kw)


def draw_panel(p):
    x0, x1, yt, yb = p["box"]
    wpx, hpx = x1 - x0, yb - yt
    ax = fig.add_axes([fx(x0), fy(yb), wpx / W, hpx / H])
    ax.set_xscale("log")
    ax.set_yscale("log")
    ax.set_xlim(10.0 ** p["xl"][0], 10.0 ** p["xl"][1])
    lo, hi = p["yl"]
    inv = p.get("inv", False)
    if inv:
        ax.set_ylim(10.0 ** hi, 10.0 ** lo)
    else:
        ax.set_ylim(10.0 ** lo, 10.0 ** hi)
    for s in ax.spines.values():
        s.set_visible(False)
    ax.patch.set_alpha(0)

    for d in p["xg"]:
        ax.axvline(10.0 ** d, color=GRID, lw=1.1, zorder=0, clip_on=False)
    for d in range(lo, hi + 1):
        ax.axhline(10.0 ** d, color=GRID, lw=1.1, zorder=0, clip_on=False)

    ax.set_xticks([10.0 ** d for d, _ in p["xt"]])
    ax.set_xticklabels([p10(s) for _, s in p["xt"]])
    ax.set_yticks([10.0 ** lo, 10.0 ** hi])
    ax.set_yticklabels([p10(str(lo)), p10(str(hi))])
    ax.xaxis.set_minor_locator(NullLocator())
    ax.yaxis.set_minor_locator(NullLocator())
    ax.tick_params(axis="both", length=4, width=1.1, color=GRID, labelsize=10.5, labelcolor="#222222")
    ax.tick_params(axis="x", pad=4)
    ax.tick_params(axis="y", pad=2)

    other, delta, sogn, fit = p["data"]
    scatter(ax, other, s=92, color=OTHER, linewidths=0, zorder=2)
    scatter(ax, delta, s=112, color="black", linewidths=0, zorder=3)
    scatter(ax, sogn, s=100, color="black", edgecolors="#e6e6e6", linewidths=0.9, zorder=4)

    f = np.array(fit, dtype=float)
    fxv, fyv = 10.0 ** f[:, 0], 10.0 ** f[:, 1]
    if p["fit"] == YELLOW:
        ax.plot(fxv, fyv, color="#3a3a3a", lw=2.0, zorder=5, clip_on=False, solid_capstyle="butt")
        ax.plot(fxv, fyv, color=YELLOW, lw=2.0, ls=(0, (3, 1.6)), zorder=6, clip_on=False)
    else:
        ax.plot(fxv, fyv, color=RED, lw=2.1, ls=(0, (3.5, 2.2)), zorder=6, clip_on=False)

    dx = p.get("xlab_dx", 0)
    dy = p.get("ylab_dy", 0)
    ax.text(0.5 + dx / wpx, -24 / hpx, p["xlab"], transform=ax.transAxes, ha="center", va="center",
            fontsize=15.5, fontweight="heavy", color="#111111")
    ax.text(-31 / wpx, 0.5 + dy / hpx, p["ylab"], transform=ax.transAxes, ha="center", va="center",
            rotation=90, fontsize=15.5, fontweight="heavy", color="#111111")

    # panel letter
    lx0, ly0, lx1, ly1 = p["lbox"]
    fig.add_artist(Rectangle((fx(lx0), fy(ly1)), (lx1 - lx0) / W, (ly1 - ly0) / H, transform=fig.transFigure,
                             facecolor="#e2e2e2", edgecolor="#1a1a1a", linewidth=1.8, zorder=20))
    fig.text(fx((lx0 + lx1) / 2), fy((ly0 + ly1) / 2), p["key"], ha="center", va="center",
             fontsize=14, fontstyle="italic", color="#111111", zorder=21)

    # number box
    nx0, ny0, nx1, ny1 = p["nbox"]
    fig.add_artist(Rectangle((fx(nx0), fy(ny1)), (nx1 - nx0) / W, (ny1 - ny0) / H, transform=fig.transFigure,
                             facecolor="#e8e8e8", edgecolor="#1a1a1a", linewidth=2.6, zorder=20))
    fig.text(fx((nx0 + nx1) / 2), fy((ny0 + ny1) / 2), p["no"], ha="center", va="center",
             fontsize=13.5, fontstyle="italic", color="#333333", zorder=21)


for p in panels:
    draw_panel(p)

# cell frames
FRAME = dict(color="#111111", lw=3.8, solid_capstyle="butt", transform=fig.transFigure, zorder=30)
for yy in (12, 264, 515, 767, 1019):
    fig.add_artist(Line2D([0, 1], [fy(yy), fy(yy)], **FRAME))
fig.add_artist(Line2D([fx(2), fx(2)], [fy(10), 0], **FRAME))
fig.add_artist(Line2D([fx(323), fx(323)], [fy(10), 0], **FRAME))
for xx in (635, 948):
    fig.add_artist(Line2D([fx(xx), fx(xx)], [fy(10), fy(1021)], **FRAME))

# legend
fig.add_artist(Rectangle((fx(513), fy(1211)), 280 / W, 143 / H, transform=fig.transFigure,
                         facecolor="#d6d6d6", edgecolor="#8a8a8a", linewidth=1.0, zorder=20))
legend_rows = [
    (1105, "black", 8.5, ["Delta-scale sand-prone", "subaqueous data"], [1091, 1122]),
    (1157, "black", 6.0, ["Sognefjord Fm. data"], [1156]),
    (1188, OTHER, 6.0, ["Other clinoforms"], [1188]),
]
for my, mc, ms, lines, ys in legend_rows:
    fig.add_artist(Line2D([fx(525)], [fy(my)], marker="o", ms=ms, color=mc, ls="none",
                          transform=fig.transFigure, zorder=21))
    for t, ty in zip(lines, ys):
        fig.text(fx(545), fy(ty), t, ha="left", va="center", fontsize=16.8, color="#222222", zorder=21)

fig.savefig("out.png", dpi=100)
